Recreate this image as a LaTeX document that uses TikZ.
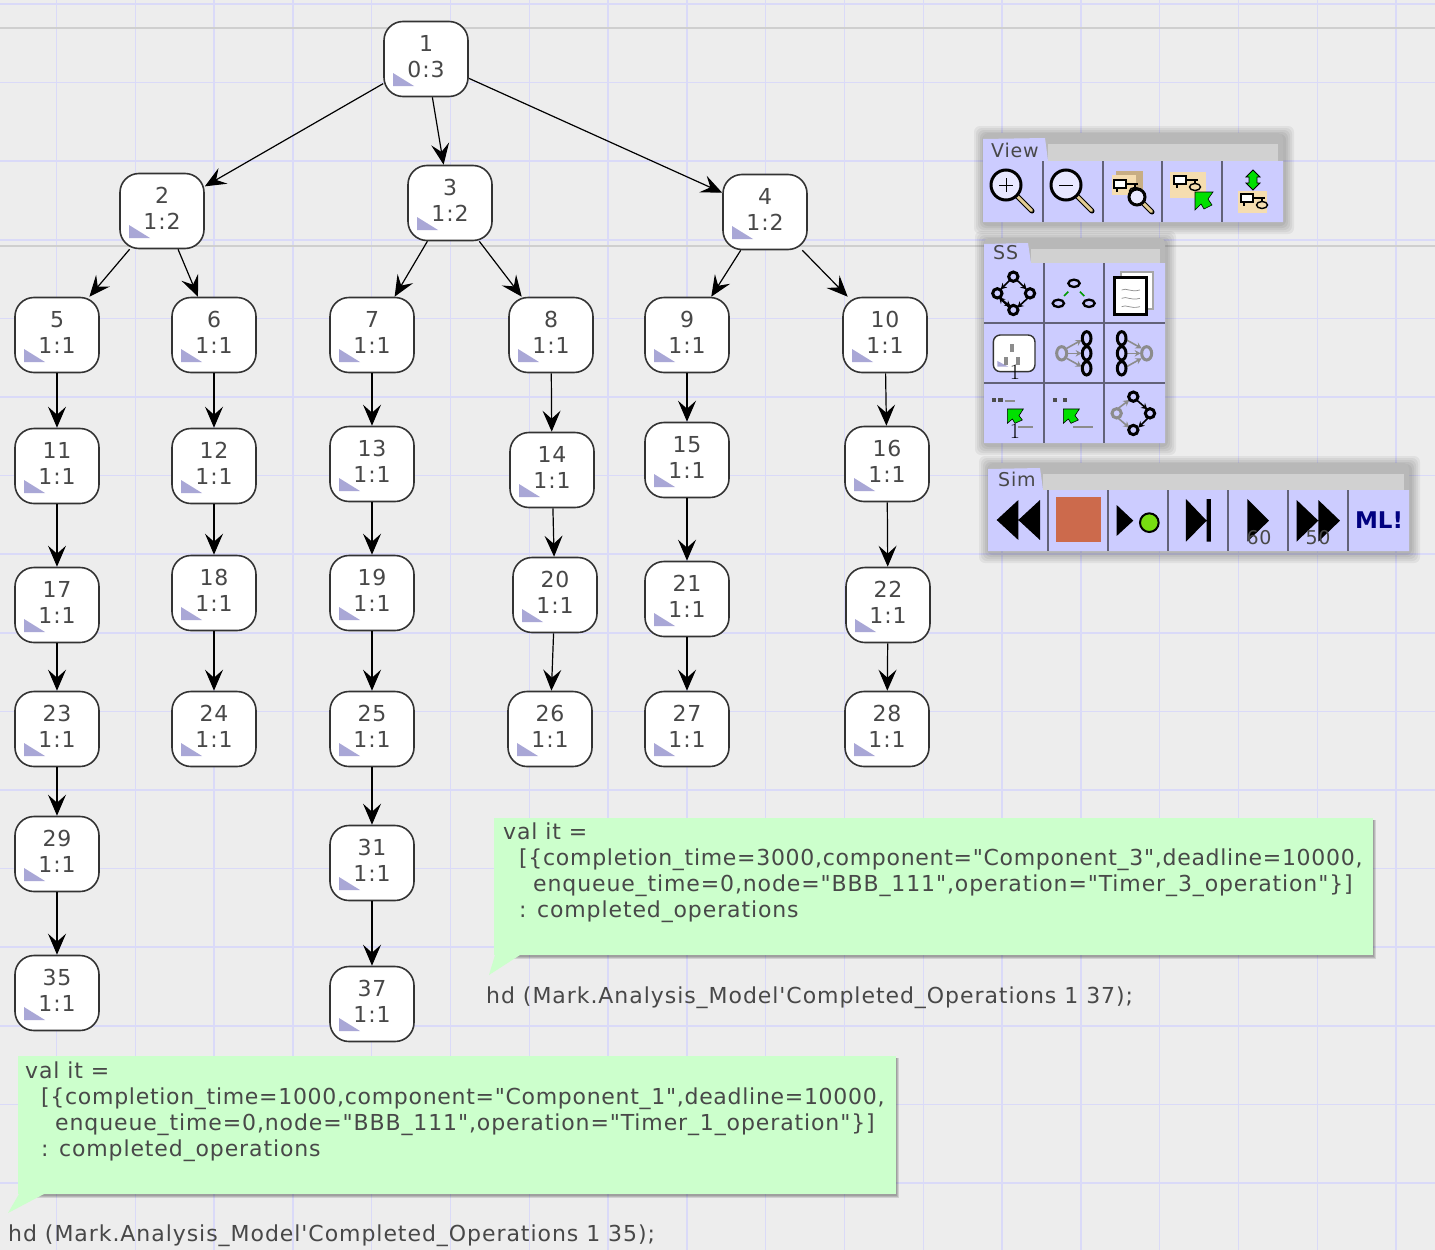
\documentclass[tikz,border=0pt]{standalone}
\usepackage{fontspec}
\usetikzlibrary{arrows.meta,calc}
\newfontfamily\df[LetterSpace=4]{DejaVu Sans}
\newfontfamily\dfs[LetterSpace=3.2]{DejaVu Sans}
\newfontfamily\dfh[LetterSpace=4.3]{DejaVu Sans}
\newfontfamily\dfb{DejaVu Sans}
\definecolor{bgc}{HTML}{EDEDED}
\definecolor{gridc}{HTML}{DADAF8}
\definecolor{gridg}{HTML}{CFCFCF}
\definecolor{txtc}{HTML}{484848}
\definecolor{lil}{HTML}{A9A7D6}
\definecolor{cellc}{HTML}{CCCCFF}
\definecolor{sepc}{HTML}{626278}
\definecolor{tanc}{HTML}{F5DDB0}
\definecolor{tand}{HTML}{C8AE84}
\definecolor{handc}{HTML}{E2CC94}
\definecolor{boxc}{HTML}{CCFFCC}
\definecolor{arrg}{HTML}{00E000}
\definecolor{gry}{HTML}{8C8C8C}
\definecolor{stopc}{HTML}{CC6A4C}
\definecolor{goc}{HTML}{77DD11}
\definecolor{navyc}{HTML}{000080}
\tikzset{
  statenode/.style={draw=black!80,line width=1.6pt,fill=white,rounded corners=19pt,
    minimum width=84pt,minimum height=75pt,inner sep=0pt,align=center,text=txtc,
    font=\df\fontsize{22}{26}\selectfont,
    path picture={\fill[lil,sharp corners] ($(path picture bounding box.center)+(-33,14)$) -- ++(0,13) -- ++(21,0) -- cycle;}},
  edge/.style={draw=black,line width=1.2pt,-{Stealth[length=21pt,width=18pt,inset=8pt]}},
  gridline/.style={gridc,line width=1.5pt},
  msg/.style={anchor=north west,align=left,inner sep=0pt,text=txtc,font=\df\fontsize{22}{26}\selectfont},
  hdtext/.style={anchor=west,inner sep=0pt,text=txtc,font=\dfh\fontsize{22}{26}\selectfont},
  tabtext/.style={anchor=west,inner sep=0pt,text=txtc,font=\df\fontsize{19}{22}\selectfont},
  sepl/.style={sepc,line width=2pt},
  ic/.style={black,line width=3pt},
  gic/.style={gry,line width=3pt},
  tiparrow/.style={line width=1.6pt,-{Stealth[length=6pt,width=6.5pt]}},
}
\newcommand\softshadow[4]{%
  \foreach \d in {10,8,6,4,2}{\fill[black,opacity=.05,rounded corners=6pt] (#1-\d+1,#2-\d+3) rectangle (#3+\d+1,#4+\d+2);}}
\newcommand\boxshadow[4]{%
  \foreach \d in {3,2,1}{\fill[black,opacity=.12] (#1+1,#2+2) rectangle (#3+\d,#4+\d+1);}}
\newcommand\statenodeat[5]{\node[statenode] (n#1) at (#2,#3) {#4\\#5\rule[-5pt]{0pt}{0pt}};}
\newcommand\panel[6]{% x1 ytop x2 ybar ybot tabright
  \softshadow{#1}{#2}{#3}{#5}
  \fill[black!28,rounded corners=5pt] (#1,#2) rectangle (#3,#4+6);
  \fill[black!18] (#6,#2+11) rectangle (#3-5,#4);
  \fill[cellc] (#1,#5) -- (#1,#2+6) -- (#6-3,#2+5) -- (#6,#4) -- (#3,#4) -- (#3,#5) -- cycle;
}
\newcommand\magn[4]{% cx cy r tx
  \draw[black,line width=5pt,line cap=round] (#1+#3*.7,#2+#3*.7) -- (#4,#4-#1+#2);
  \draw[handc,line width=3pt,line cap=round] (#1+#3*.75,#2+#3*.75) -- (#4-.5,#4-#1+#2-.5);
  \fill[white!55!cellc] (#1,#2) circle[radius=#3];
  \draw[black,line width=3pt] (#1,#2) circle[radius=#3];
}
\newcommand\mininet[2]{% x y: top-left of small net
  \draw[black,line width=1.6pt,fill=white] (#1,#2) rectangle ++(12,8);
  \draw[black,line width=1.2pt] (#1+12,#2+4) -- ++(12,0) (#1+3,#2+8) -- ++(0,4) (#1+21,#2+4) -- ++(0,3);
  \draw[black,line width=1.4pt,fill=tanc] (#1+21,#2+11) ellipse[x radius=5.5,y radius=3.5];
}
\begin{document}
\begin{tikzpicture}[x=1pt,y=-1pt]
\useasboundingbox (0,0) rectangle (1435,1250);
\fill[bgc] (0,0) rectangle (1435,1250);
% grid
\foreach \k in {0,...,17}{\draw[gridline] ({56.5+78.8*\k},0) -- ({56.5+78.8*\k},1250);}
\foreach \k in {0,...,15}{\draw[gridline] (0,{4+78.6*\k}) -- (1435,{4+78.6*\k});}
\draw[gridg,line width=2pt] (0,27.5) -- (1435,27.5);
\draw[gridg,line width=2pt] (0,245.5) -- (1435,245.5);
% nodes
\statenodeat{1}{426}{59}{1}{0:3}
\statenodeat{2}{162}{211}{2}{1:2}
\statenodeat{3}{450}{203}{3}{1:2}
\statenodeat{4}{765}{212}{4}{1:2}
\statenodeat{5}{57}{335}{5}{1:1}
\statenodeat{6}{214}{335}{6}{1:1}
\statenodeat{7}{372}{335}{7}{1:1}
\statenodeat{8}{551}{335}{8}{1:1}
\statenodeat{9}{687}{335}{9}{1:1}
\statenodeat{10}{885}{335}{10}{1:1}
\statenodeat{11}{57}{466}{11}{1:1}
\statenodeat{12}{214}{466}{12}{1:1}
\statenodeat{13}{372}{464}{13}{1:1}
\statenodeat{14}{552}{470}{14}{1:1}
\statenodeat{15}{687}{460}{15}{1:1}
\statenodeat{16}{887}{464}{16}{1:1}
\statenodeat{17}{57}{605}{17}{1:1}
\statenodeat{18}{214}{593}{18}{1:1}
\statenodeat{19}{372}{593}{19}{1:1}
\statenodeat{20}{555}{595}{20}{1:1}
\statenodeat{21}{687}{599}{21}{1:1}
\statenodeat{22}{888}{605}{22}{1:1}
\statenodeat{23}{57}{729}{23}{1:1}
\statenodeat{24}{214}{729}{24}{1:1}
\statenodeat{25}{372}{729}{25}{1:1}
\statenodeat{26}{550}{729}{26}{1:1}
\statenodeat{27}{687}{729}{27}{1:1}
\statenodeat{28}{887}{729}{28}{1:1}
\statenodeat{29}{57}{854}{29}{1:1}
\statenodeat{31}{372}{863}{31}{1:1}
\statenodeat{35}{57}{993}{35}{1:1}
\statenodeat{37}{372}{1004}{37}{1:1}
% edges
\foreach \a/\b in {1/2,1/3,1/4,2/5,2/6,3/7,3/8,4/9,4/10,5/11,6/12,7/13,8/14,9/15,10/16,11/17,12/18,13/19,14/20,15/21,16/22,17/23,18/24,19/25,20/26,21/27,22/28,23/29,25/31,29/35,31/37}
  {\draw[edge] (n\a) -- (n\b);}
% message boxes
\boxshadow{494}{818}{1373}{955}
\fill[boxc] (494,818) rectangle (1373,955);
\fill[boxc] (495,955) -- (520,955) -- (489,975) -- cycle;
\node[msg] (msgA) at (503,823) {val it =\\
  \hspace*{16pt}{\dfs[\{completion\_time=3000,component="Component\_3",deadline=10000,}\\
  \hspace*{30pt}enqueue\_time=0,node="BBB\_111",operation="Timer\_3\_operation"\}]\\
  \hspace*{16pt}: completed\_operations};
\node[hdtext] (hdA) at (486,998) {hd (Mark.Analysis\_Model'Completed\_Operations 1 37);};
\boxshadow{18}{1056}{896}{1194}
\fill[boxc] (18,1056) rectangle (896,1194);
\fill[boxc] (19,1194) -- (44,1194) -- (8,1213) -- cycle;
\node[msg] (msgB) at (25,1062) {val it =\\
  \hspace*{16pt}{\dfs[\{completion\_time=1000,component="Component\_1",deadline=10000,}\\
  \hspace*{30pt}enqueue\_time=0,node="BBB\_111",operation="Timer\_1\_operation"\}]\\
  \hspace*{16pt}: completed\_operations};
\node[hdtext] (hdB) at (8,1236) {hd (Mark.Analysis\_Model'Completed\_Operations 1 35);};
% ===== View panel
\panel{983}{133}{1283}{161}{222}{1048}
\node[tabtext] (tabV) at (991,150) {View};
\foreach \x in {1043,1103,1162,1222}{\draw[sepl] (\x,161) -- (\x,222);}
\magn{1006}{185}{15}{1032}
\draw[black,line width=1pt] (999,185) -- (1013,185) (1006,178) -- (1006,192);
\magn{1066}{185}{15}{1092}
\draw[black,line width=1pt] (1059,185) -- (1073,185);
\fill[tand] (1116,171) rectangle (1143,195);
\fill[tanc] (1112,175) rectangle (1136,195);
\mininet{1114}{180}
\magn{1137}{197}{8}{1152}
\fill[tanc] (1170,172) rectangle (1206,198);
\mininet{1174}{176}
\fill[arrg,draw=black,line width=.6pt] (1195,192) -- ++(18,0) -- ++(-5,7) -- ++(4,6) -- ++(-8,4) -- ++(-3,-5) -- ++(-6,6) -- cycle;
\fill[arrg,draw=black,line width=.8pt] (1253,170) -- (1260,177) -- (1257,177) -- (1257,183) -- (1260,183) -- (1253,190) -- (1246,183) -- (1249,183) -- (1249,177) -- (1246,177) -- cycle;
\fill[tanc] (1238,191) rectangle (1267,213);
\mininet{1241}{194}
% ===== SS panel
\panel{984}{238}{1165}{263}{443}{1031}
\node[tabtext] (tabS) at (993,253) {SS};
\foreach \x in {1044,1104}{\draw[sepl] (\x,263) -- (\x,443);}
\foreach \y in {323,383}{\draw[sepl] (984,\y) -- (1165,\y);}
\begin{scope}[shift={(970,235)},x=.3333pt,y=-.3333pt]
  % icon 1
  \draw[black,tiparrow] (125,130) -- (92,163);
  \draw[black,tiparrow] (135,130) -- (170,163);
  \draw[black,tiparrow] (178,185) -- (142,218);
  \draw[black,tiparrow] (120,220) -- (87,187);
  \draw[black,tiparrow] (88,188) -- (122,215);
  \foreach \p in {(130,125),(82,175),(180,175),(130,225)}{\draw[black,line width=3pt,fill=cellc] \p circle[radius=14];}
  % icon 2
  \draw[black,line width=2.3pt] (312,145) ellipse[x radius=17,y radius=11] (265,205) ellipse[x radius=17,y radius=11] (357,205) ellipse[x radius=17,y radius=11];
  \draw[green!60!black,line width=1.6pt] (295,170) -- (282,183) (330,170) -- (343,183);
  % icon 3
  \draw[black!35,line width=2pt,fill=white] (452,110) rectangle (550,222);
  \draw[black,line width=3pt,fill=white] (435,128) rectangle (530,240);
  \foreach \y in {165,190,215}{\draw[gry,line width=.7pt] (455,\y) .. controls (470,\y-8) and (480,\y+8) .. (510,\y);}
  % icon 4
  \draw[black!80,line width=1.4pt,fill=white,rounded corners=7pt] (70,300) rectangle (195,410);
  \fill[lil] (82,378) -- (82,395) -- (115,395) -- cycle;
  \foreach \p in {(125,340),(108,378),(143,378)}{\fill[gry] \p ++(-6,-12) rectangle ++(12,24);}
  % icon 5
  \draw[gry,tiparrow] (290,340) -- (335,315);
  \draw[gry,tiparrow] (292,355) -- (335,355);
  \draw[gry,tiparrow] (290,370) -- (335,395);
  \draw[gic] (275,355) ellipse[x radius=15,y radius=20];
  \foreach \y in {310,355,400}{\draw[ic] (350,\y) ellipse[x radius=13,y radius=20];}
  % icon 6
  \draw[gry,tiparrow] (470,315) -- (515,340);
  \draw[gry,tiparrow] (470,355) -- (512,355);
  \draw[gry,tiparrow] (470,395) -- (515,370);
  \draw[gic] (530,355) ellipse[x radius=15,y radius=20];
  \foreach \y in {310,355,400}{\draw[ic] (455,\y) ellipse[x radius=13,y radius=20];}
  % icon 7
  \foreach \p in {(72,495),(92,495)}{\fill[black!70] \p ++(-7,-7) rectangle ++(14,14);}
  \fill[gry] (105,494) rectangle (135,500);
  \fill[gry] (145,572) rectangle (190,580);
  \fill[arrg,draw=black,line width=.6pt] (112,522) -- (160,522) -- (147,542) -- (157,555) -- (135,565) -- (127,552) -- (112,565) -- cycle;
  % icon 8
  \foreach \p in {(255,495),(285,495)}{\fill[black!70] \p ++(-7,-7) rectangle ++(14,14);}
  \fill[arrg,draw=black,line width=.6pt] (280,522) -- (328,522) -- (315,542) -- (325,555) -- (303,565) -- (295,552) -- (280,565) -- cycle;
  \fill[gry] (310,572) rectangle (370,580);
  % icon 9
  \draw[gry,tiparrow] (445,520) -- (478,495);
  \draw[gry,tiparrow] (445,550) -- (478,578);
  \draw[black,tiparrow] (500,495) -- (532,523);
  \draw[black,tiparrow] (535,548) -- (505,578);
  \draw[gic] (440,535) circle[radius=14];
  \foreach \p in {(490,485),(540,535),(490,585)}{\draw[ic] \p circle[radius=14];}
\end{scope}
\node[inner sep=0pt,font=\fontsize{22}{22}\selectfont] (one1) at (1015,372) {1};
\node[inner sep=0pt,font=\fontsize{22}{22}\selectfont] (one2) at (1015,431) {1};
% ===== Sim panel
\panel{988}{463}{1409}{490}{551}{1043}
\node[tabtext] (tabR) at (998,479) {Sim};
\foreach \x in {1048,1108,1168,1228,1288,1348}{\draw[sepl] (\x,490) -- (\x,551);}
\begin{scope}[shift={(975,455)},x=.3333pt,y=-.3333pt]
  \fill[black] (65,195) -- (130,135) -- (130,255) -- cycle (130,195) -- (195,135) -- (195,255) -- cycle;
  \fill[stopc] (243,127) rectangle (378,262);
  \fill[black] (425,150) -- (425,243) -- (475,197) -- cycle;
  \draw[black,line width=2pt,fill=goc] (523,203) circle[radius=28];
  \fill[black] (633,132) -- (633,260) -- (695,197) -- cycle (695,132) rectangle (708,260);
  \fill[black] (817,132) -- (817,260) -- (882,197) -- cycle;
  \fill[black] (965,135) -- (965,260) -- (1030,197) -- cycle (1030,135) -- (1030,260) -- (1095,197) -- cycle;
\end{scope}
\node[inner sep=0pt,text=txtc,font=\df\fontsize{19}{22}\selectfont] (sixty) at (1259,538) {60};
\node[inner sep=0pt,text=txtc,font=\df\fontsize{19}{22}\selectfont] (fifty) at (1318,538) {50};
\node[inner sep=0pt,text=navyc,font=\dfb\bfseries\fontsize{23}{23}\selectfont] (mlt) at (1379,520) {ML!};
\end{tikzpicture}
\end{document}
